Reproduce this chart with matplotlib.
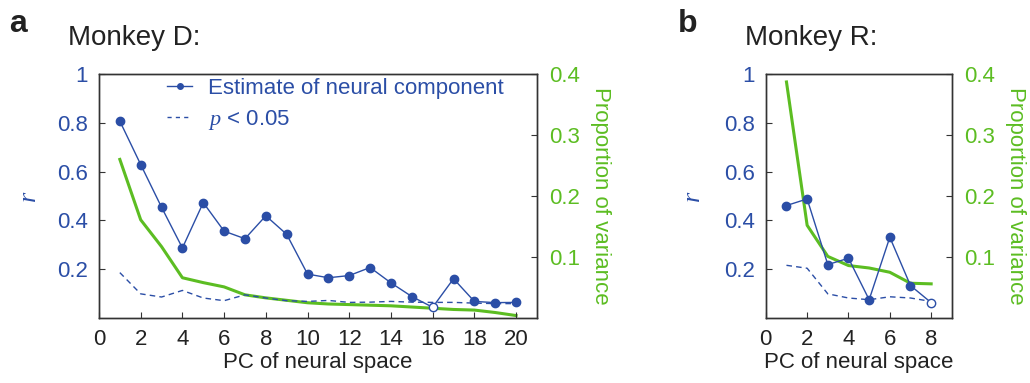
"""
Neural component estimate vs. proportion of variance for two monkeys.
"""
import matplotlib

matplotlib.use("Agg")
import matplotlib.pyplot as plt
from matplotlib.lines import Line2D

BLUE = "#2b4ea6"
GREEN = "#5cbd22"
DARK = "#222222"

# Monkey D
pc_d = list(range(1, 21))
r_d = [0.807, 0.629, 0.454, 0.287, 0.473, 0.356, 0.325, 0.419, 0.343, 0.180,
       0.165, 0.174, 0.207, 0.144, 0.088, 0.044, 0.161, 0.068, 0.063, 0.064]
sig_d = [0.186, 0.099, 0.086, 0.113, 0.082, 0.071, 0.095, 0.082, 0.071, 0.068,
         0.072, 0.064, 0.065, 0.068, 0.065, 0.064, 0.064, 0.061, 0.059, 0.059]
var_d = [0.260, 0.161, 0.117, 0.066, 0.058, 0.051, 0.038, 0.033, 0.029, 0.025,
         0.023, 0.022, 0.021, 0.020, 0.018, 0.016, 0.014, 0.013, 0.009, 0.004]
open_d = [16]

# Monkey R
pc_r = list(range(1, 9))
r_r = [0.461, 0.488, 0.219, 0.245, 0.075, 0.331, 0.133, 0.063]
sig_r = [0.216, 0.204, 0.099, 0.082, 0.075, 0.087, 0.082, 0.068]
var_r = [0.387, 0.152, 0.101, 0.086, 0.082, 0.075, 0.057, 0.056]
open_r = [8]

plt.rcParams["font.family"] = ["Liberation Sans", "DejaVu Sans"]
plt.rcParams["font.size"] = 16
plt.rcParams["mathtext.fontset"] = "custom"
plt.rcParams["mathtext.it"] = "Liberation Serif:italic"
plt.rcParams["mathtext.rm"] = "Liberation Sans"

TICK_FS = 16


def panel(fig, rect, pcs, r, sig, var, open_pts, xmax, xticks, rlabel_x):
    ax = fig.add_axes(rect)
    ax2 = ax.twinx()
    ax.set_zorder(ax2.get_zorder() + 1)
    ax.patch.set_visible(False)

    ax2.plot(pcs, var, color=GREEN, lw=2.2)
    ax.plot(pcs, sig, color=BLUE, lw=1, ls=(0, (4, 3)))
    ax.plot(pcs, r, color=BLUE, lw=1)
    filled = [(p, v) for p, v in zip(pcs, r) if p not in open_pts]
    hollow = [(p, v) for p, v in zip(pcs, r) if p in open_pts]
    ax.plot(*zip(*filled), ls="none", marker="o", ms=6, color=BLUE)
    ax.plot(*zip(*hollow), ls="none", marker="o", ms=6, mfc="white", mec=BLUE, mew=1)

    ax.set_xlim(0, xmax)
    ax.set_ylim(0, 1)
    ax2.set_ylim(0, 0.4)
    ax.set_xticks(xticks)
    ax.set_xticklabels([str(t) for t in xticks])
    ax.set_yticks([0.2, 0.4, 0.6, 0.8, 1.0])
    ax.set_yticklabels(["0.2", "0.4", "0.6", "0.8", "1"])
    ax2.set_yticks([0.1, 0.2, 0.3, 0.4])
    ax2.set_yticklabels(["0.1", "0.2", "0.3", "0.4"])

    for a in (ax, ax2):
        for s in a.spines.values():
            s.set_color("#333333")
            s.set_linewidth(1)
    ax.tick_params(axis="y", labelcolor=BLUE, color="#333333", labelsize=TICK_FS,
                   direction="in", length=4, pad=8)
    ax.tick_params(axis="x", labelcolor=DARK, color="#333333", labelsize=TICK_FS,
                   direction="in", length=4, pad=8)
    ax2.tick_params(axis="y", labelcolor=GREEN, color="#333333", labelsize=TICK_FS,
                    direction="in", length=4, pad=9)

    ax.set_xlabel("PC of neural space", fontsize=16, color=DARK, labelpad=1)
    ax.set_ylabel("r", fontsize=19, color=BLUE, family="Liberation Serif",
                  style="italic", rotation=90)
    ax.yaxis.set_label_coords(rlabel_x, 0.5)
    ax2.set_ylabel("Proportion of variance", fontsize=16, color=GREEN,
                   rotation=270, labelpad=22)
    return ax


fig = plt.figure(figsize=(10.30, 3.83), dpi=100)

ax_a = panel(fig, [0.0961, 0.1697, 0.4252, 0.637], pc_d, r_d, sig_d, var_d,
             open_d, 21, list(range(0, 21, 2)), -0.135)
ax_b = panel(fig, [0.7435, 0.1697, 0.1806, 0.637], pc_r, r_r, sig_r, var_r,
             open_r, 9, [0, 2, 4, 6, 8], -0.33)

fig.text(0.009, 0.9165, "a", fontsize=23, fontweight="bold", color=DARK, va="baseline")
fig.text(0.658, 0.9165, "b", fontsize=23, fontweight="bold", color=DARK, va="baseline")
fig.text(0.066, 0.8825, "Monkey D:", fontsize=20, color=DARK, va="baseline")
fig.text(0.723, 0.8825, "Monkey R:", fontsize=20, color=DARK, va="baseline")

handles = [
    Line2D([], [], color=BLUE, lw=1, marker="o", ms=4),
    Line2D([], [], color=BLUE, lw=1, ls=(0, (3, 3))),
]
labels = ["Estimate of neural component", "$\\mathit{p}$ < 0.05"]
leg = ax_a.legend(handles, labels, loc="upper left", bbox_to_anchor=(0.155, 0.984),
                  frameon=False, fontsize=16, handlelength=1.15, labelspacing=0.4,
                  handletextpad=0.7, borderpad=0, borderaxespad=0)
for t in leg.get_texts():
    t.set_color(BLUE)

fig.savefig("out.png", dpi=100)
